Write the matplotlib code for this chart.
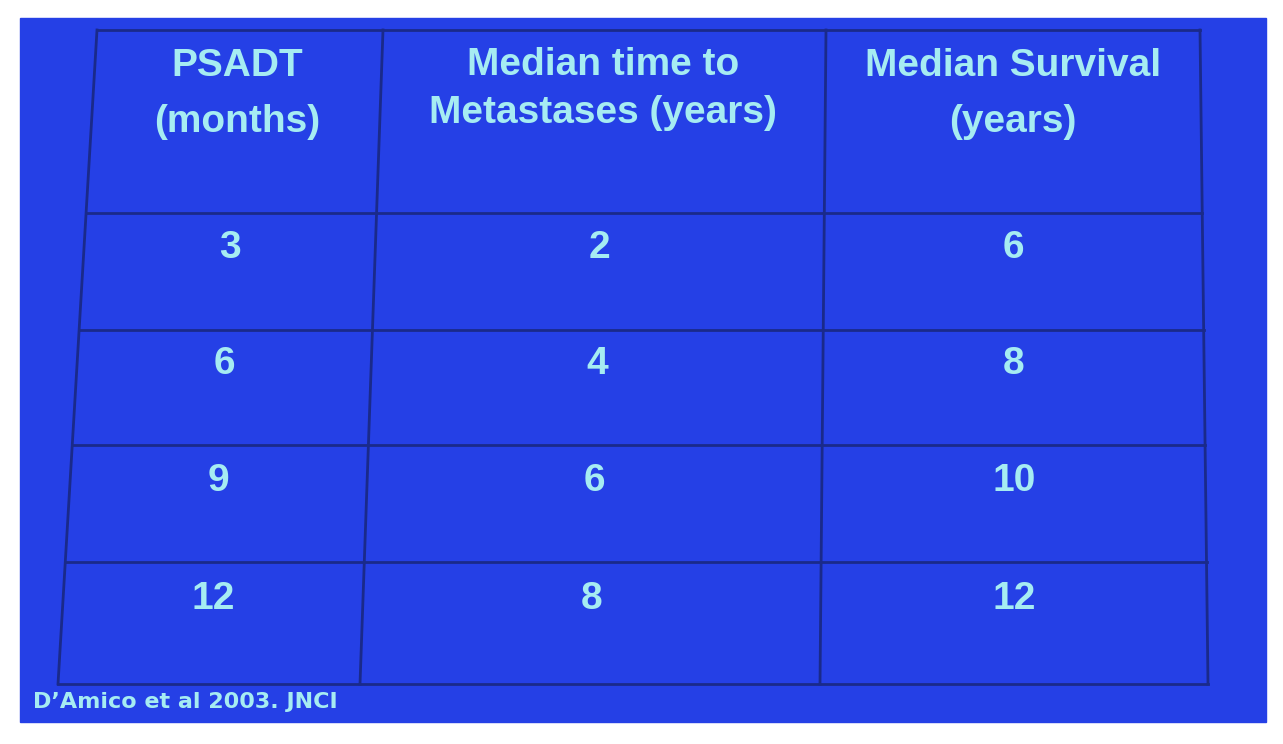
import matplotlib
matplotlib.use("Agg")
import matplotlib.pyplot as plt

headers = ["PSADT\n(months)", "Median time to\nMetastases (years)", "Median Survival\n(years)"]
psadt = ["3", "6", "9", "12"]
time_to_mets = ["2", "4", "6", "8"]
survival = ["6", "8", "10", "12"]
citation = "D\u2019Amico et al 2003. JNCI"

fig = plt.figure(figsize=(12.83, 7.44), dpi=100)
ax = fig.add_axes([0, 0, 1, 1])
ax.set_xlim(0, 1283); ax.set_ylim(744, 0); ax.axis("off")
fig.patch.set_facecolor("white")
ax.add_patch(plt.Rectangle((20, 18), 1246, 704, color="#2540e6", zorder=0))

line_c = "#1a2a8a"
top, bot = 30, 684
def x_at(xt, xb, y):
    return xt + (xb - xt) * (y - top) / (bot - top)
cols = [(97, 58), (383, 360), (826, 820), (1200, 1208)]
for xt, xb in cols:
    ax.plot([xt, xb], [top, bot], color=line_c, lw=2)
rows = [top, 213, 330, 445, 562, bot]
for y in rows:
    ax.plot([x_at(*cols[0], y), x_at(*cols[-1], y)], [y, y], color=line_c, lw=2)

tc = "#a6ecf2"
hx = [237, 603, 1013]
hy = [94, 89, 94]
hls = [1.75, 1.4, 1.75]
for x, y, ls, h in zip(hx, hy, hls, headers):
    ax.text(x, y, h, ha="center", va="center", color=tc,
            fontsize=28, fontweight="bold", family="Liberation Sans", linespacing=ls)
ys = [248, 364, 481, 599]
for i, y in enumerate(ys):
    for xt, xb, v in zip(cols[:-1], cols[1:], [psadt[i], time_to_mets[i], survival[i]]):
        x = (x_at(*xt, y) + x_at(*xb, y)) / 2
        ax.text(x, y, v, ha="center", va="center", color=tc, fontsize=28,
                fontweight="bold", family="Liberation Sans")
ax.text(33, 702, citation, ha="left", va="center", color=tc, fontsize=16,
        fontweight="bold", family="DejaVu Sans")
fig.savefig("out.png", dpi=100)
